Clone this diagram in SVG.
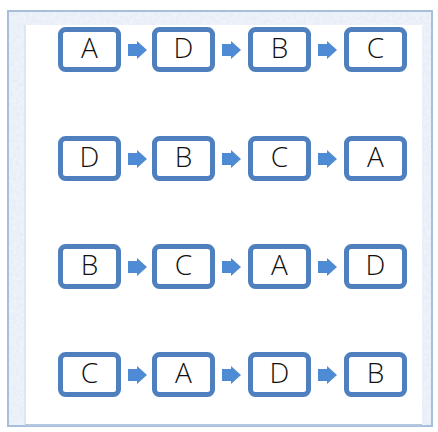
<svg xmlns="http://www.w3.org/2000/svg" width="438" height="432" viewBox="0 0 438 432">
  <defs>
    <style>
      .box { fill: #ffffff; stroke: #4f7fbd; stroke-width: 5; }
      .lbl { font-family: "Open Sans", "Liberation Sans", sans-serif; font-size: 28px; font-weight: 300; fill: #111111; text-anchor: middle; }
      .arr { fill: #4f8ad4; }
    </style>
    <filter id="frost" x="0" y="0" width="100%" height="100%">
      <feTurbulence type="fractalNoise" baseFrequency="0.3" numOctaves="2" seed="3" result="n"/>
      <feColorMatrix in="n" type="matrix" values="0 0 0 0 0.78  0 0 0 0 0.84  0 0 0 0 0.93  0 0 0 2 -0.7" result="c"/>
      <feComposite in="c" in2="SourceGraphic" operator="in"/>
    </filter>
    <path id="ar" d="M0,-6 H9 V-9 L19,0 L9,9 V6 H0 Z"/>
  </defs>

  <rect width="438" height="432" fill="#ffffff"/>
  <g id="frame">
    <rect x="7" y="10" width="426" height="417" fill="#eef3f9"/>
    <rect x="7" y="10" width="426" height="417" fill="#ffffff" filter="url(#frost)"/>
    <rect x="8" y="11" width="424" height="415" fill="none" stroke="#a7bedc" stroke-width="2"/>
    <rect x="25" y="25" width="397" height="399" fill="#ffffff"/>
    <line x1="25" y1="25" x2="25" y2="424" stroke="#d6e1ef" stroke-width="1.5"/>
    <line x1="25" y1="425" x2="422" y2="425" stroke="#b3c7e1" stroke-width="2"/>
  </g>

  <g id="connectors">
    <use href="#ar" class="arr" x="128" y="50"/>
    <use href="#ar" class="arr" x="222" y="50"/>
    <use href="#ar" class="arr" x="318" y="50"/>
    <use href="#ar" class="arr" x="128" y="159"/>
    <use href="#ar" class="arr" x="222" y="159"/>
    <use href="#ar" class="arr" x="318" y="159"/>
    <use href="#ar" class="arr" x="128" y="267"/>
    <use href="#ar" class="arr" x="222" y="267"/>
    <use href="#ar" class="arr" x="318" y="267"/>
    <use href="#ar" class="arr" x="128" y="375"/>
    <use href="#ar" class="arr" x="222" y="375"/>
    <use href="#ar" class="arr" x="318" y="375"/>
  </g>

  <g id="r1c1"><rect class="box" x="60.5" y="29.5" width="58" height="40" rx="5"/><text class="lbl" x="89.5" y="58">A</text></g>
  <g id="r1c2"><rect class="box" x="154.5" y="29.5" width="58" height="40" rx="5"/><text class="lbl" x="183.5" y="58">D</text></g>
  <g id="r1c3"><rect class="box" x="250.5" y="29.5" width="58" height="40" rx="5"/><text class="lbl" x="279.5" y="58">B</text></g>
  <g id="r1c4"><rect class="box" x="346.5" y="29.5" width="58" height="40" rx="5"/><text class="lbl" x="375.5" y="58">C</text></g>

  <g id="r2c1"><rect class="box" x="60.5" y="138.5" width="58" height="40" rx="5"/><text class="lbl" x="89.5" y="167">D</text></g>
  <g id="r2c2"><rect class="box" x="154.5" y="138.5" width="58" height="40" rx="5"/><text class="lbl" x="183.5" y="167">B</text></g>
  <g id="r2c3"><rect class="box" x="250.5" y="138.5" width="58" height="40" rx="5"/><text class="lbl" x="279.5" y="167">C</text></g>
  <g id="r2c4"><rect class="box" x="346.5" y="138.5" width="58" height="40" rx="5"/><text class="lbl" x="375.5" y="167">A</text></g>

  <g id="r3c1"><rect class="box" x="60.5" y="246.5" width="58" height="40" rx="5"/><text class="lbl" x="89.5" y="275">B</text></g>
  <g id="r3c2"><rect class="box" x="154.5" y="246.5" width="58" height="40" rx="5"/><text class="lbl" x="183.5" y="275">C</text></g>
  <g id="r3c3"><rect class="box" x="250.5" y="246.5" width="58" height="40" rx="5"/><text class="lbl" x="279.5" y="275">A</text></g>
  <g id="r3c4"><rect class="box" x="346.5" y="246.5" width="58" height="40" rx="5"/><text class="lbl" x="375.5" y="275">D</text></g>

  <g id="r4c1"><rect class="box" x="60.5" y="354.5" width="58" height="40" rx="5"/><text class="lbl" x="89.5" y="383">C</text></g>
  <g id="r4c2"><rect class="box" x="154.5" y="354.5" width="58" height="40" rx="5"/><text class="lbl" x="183.5" y="383">A</text></g>
  <g id="r4c3"><rect class="box" x="250.5" y="354.5" width="58" height="40" rx="5"/><text class="lbl" x="279.5" y="383">D</text></g>
  <g id="r4c4"><rect class="box" x="346.5" y="354.5" width="58" height="40" rx="5"/><text class="lbl" x="375.5" y="383">B</text></g>
</svg>
